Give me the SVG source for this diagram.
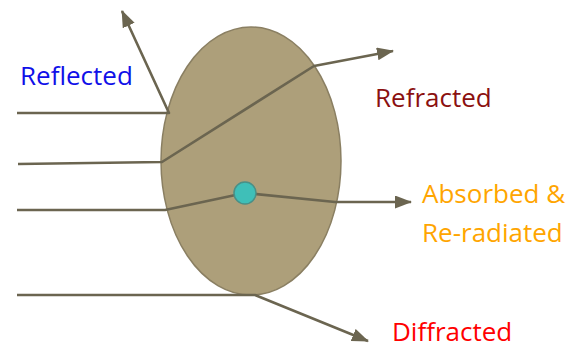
<svg xmlns="http://www.w3.org/2000/svg" width="582" height="348" viewBox="0 0 582 348">
<defs>
<style>
.ray{fill:none;stroke:#6b6550;stroke-width:2.6;stroke-linejoin:round}
.lbl{font-family:"Open Sans","Noto Sans",sans-serif;font-size:26px}
</style>
<marker id="ah" markerUnits="userSpaceOnUse" markerWidth="18" markerHeight="14" refX="16" refY="6.5" orient="auto">
<path d="M0,0 L17,6.5 L0,13 Z" fill="#6b6550"/>
</marker>
</defs>
<rect width="582" height="348" fill="#ffffff"/>
<g id="particle">
<ellipse cx="251" cy="161" rx="90" ry="134" fill="#ad9f7a" stroke="#8a7f62" stroke-width="1.5"/>
</g>
<g id="connectors">
<path class="ray" d="M17,113 L169,113 L122,11" marker-end="url(#ah)"/>
<path class="ray" d="M18,164 L162,162 L314,66 L393,51" marker-end="url(#ah)"/>
<path class="ray" d="M17,210 L165,210 L245,193 L335,202 L411,202" marker-end="url(#ah)"/>
<path class="ray" d="M17,295 L255,295 L368,341" marker-end="url(#ah)"/>
</g>
<g id="absorber">
<circle cx="245" cy="193" r="11" fill="#3fbfb8" stroke="#4a8f86" stroke-width="1.5"/>
</g>
<g id="reflected">
<text class="lbl" x="20" y="85" fill="#1010e8">Reflected</text>
</g>
<g id="refracted">
<text class="lbl" x="375" y="107" fill="#8b1010">Refracted</text>
</g>
<g id="absorbed">
<text class="lbl" x="422" y="203" fill="#ffa500">Absorbed &amp;</text>
<text class="lbl" x="422" y="242" fill="#ffa500">Re-radiated</text>
</g>
<g id="diffracted">
<text class="lbl" x="392" y="341" fill="#ff0000">Diffracted</text>
</g>
</svg>
